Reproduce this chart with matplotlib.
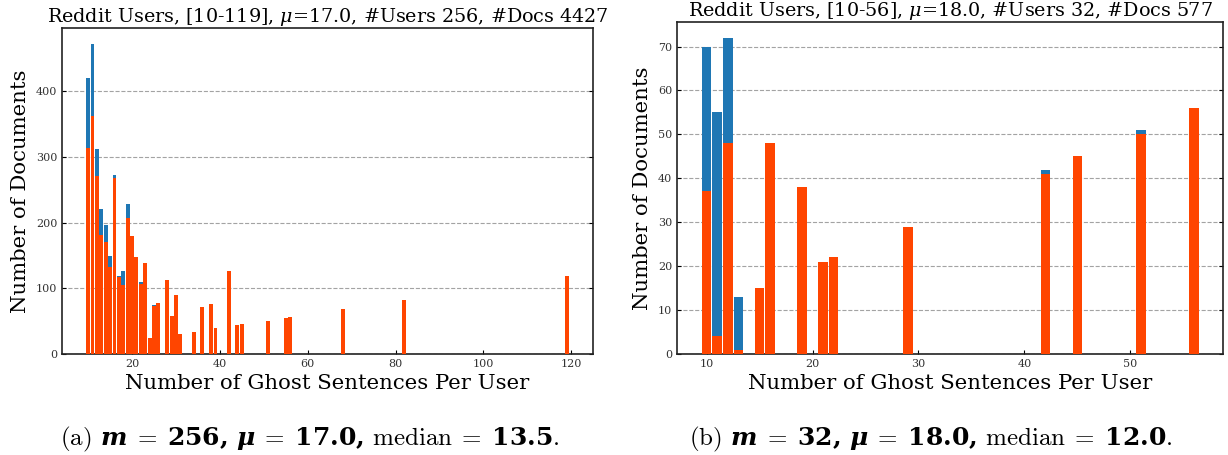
import matplotlib
matplotlib.use("Agg")
import matplotlib.pyplot as plt
import numpy as np

# (a) all users with 10-119 ghost sentences
ghost_a = [10, 11, 12, 13, 14, 15, 16, 17, 18, 19, 20, 21, 22, 23, 24, 25, 26,
           28, 29, 30, 31, 34, 36, 38, 39, 42, 44, 45, 51, 55, 56, 68, 82, 119]
total_a = [420, 473, 312, 221, 196, 150, 272, 119, 126, 228, 180, 147, 110, 138, 24, 75, 78,
           112, 58, 90, 31, 34, 72, 76, 39, 126, 44, 45, 51, 55, 56, 68, 82, 119]
subset_a = [314, 363, 271, 181, 171, 132, 268, 117, 105, 207, 179, 147, 107, 138, 24, 73, 78,
            112, 58, 90, 31, 34, 72, 76, 39, 126, 44, 45, 51, 55, 56, 68, 82, 119]

# (b) 32 users
ghost_b = [10, 11, 12, 13, 15, 16, 19, 21, 22, 29, 42, 45, 51, 56]
total_b = [70, 55, 72, 13, 15, 48, 38, 21, 22, 29, 42, 45, 51, 56]
subset_b = [37, 4, 48, 1, 15, 48, 38, 21, 22, 29, 41, 45, 50, 56]

titles = [r"Reddit Users, [10-119], $\mu$=17.0, #Users 256, #Docs 4427",
          r"Reddit Users, [10-56], $\mu$=18.0, #Users 32, #Docs 577"]
captions = [r"(a) $\boldsymbol{m}\;=\;\mathbf{256,}\, \boldsymbol{\mu}\;=\;\mathbf{17.0,}\,"
            r"\mathrm{median}\;=\;\mathbf{13.5}$.",
            r"(b) $\boldsymbol{m}\;=\;\mathbf{32,}\, \boldsymbol{\mu}\;=\;\mathbf{18.0,}\,"
            r"\mathrm{median}\;=\;\mathbf{12.0}$."]

plt.rcParams["font.family"] = "DejaVu Serif"
# captions: computer-modern look with heavy bold digits
plt.rcParams["mathtext.fontset"] = "custom"
plt.rcParams["mathtext.rm"] = "cmr10"
plt.rcParams["mathtext.it"] = "cmmi10"
plt.rcParams["mathtext.bf"] = "DejaVu Serif:bold"
plt.rcParams["mathtext.bfit"] = "DejaVu Serif:italic:bold"

BLUE = "#1f77b4"
ORANGE = "#ff4500"

fig = plt.figure(figsize=(12.28, 4.55), dpi=100)
ax1 = fig.add_axes([0.0505, 0.222, 0.4324, 0.7165])
ax2 = fig.add_axes([0.5513, 0.222, 0.445, 0.7297])

data = [(ax1, ghost_a, total_a, subset_a), (ax2, ghost_b, total_b, subset_b)]
for i, (ax, x, tot, sub) in enumerate(data):
    ax.bar(x, tot, width=0.9, color=BLUE, zorder=2)
    ax.bar(x, sub, width=0.9, color=ORANGE, zorder=3)
    ax.set_title(titles[i], fontsize=13.8, pad=4, math_fontfamily="dejavuserif")
    ax.set_xlabel("Number of Ghost Sentences Per User", fontsize=15.3)
    ax.set_ylabel("Number of Documents", fontsize=15.3)
    ax.grid(axis="y", linestyle="--", color="#999999", alpha=0.9, zorder=0)
    ax.tick_params(direction="in", labelsize=8, labelcolor="#333333",
                   top=False, right=True, length=3)
    for s in ax.spines.values():
        s.set_linewidth(1.2)
        s.set_color("#222222")

ax1.set_yticks([0, 100, 200, 300, 400])
ax2.set_yticks(np.arange(0, 71, 10))

fig.text(0.252, 0.022, captions[0], ha="center", fontsize=18, family="cmr10")
fig.text(0.758, 0.022, captions[1], ha="center", fontsize=18, family="cmr10")

plt.savefig("out.png", dpi=100)
